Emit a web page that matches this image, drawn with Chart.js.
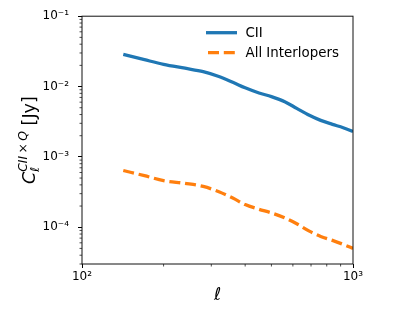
<!DOCTYPE html>
<html>
<head>
<meta charset="utf-8">
<script src="https://cdn.jsdelivr.net/npm/chart.js@4.4.1/dist/chart.umd.min.js"></script>
<style>
  html, body { margin: 0; padding: 0; background: #fff; }
  #chart { display: block; }
</style>
</head>
<body>
<canvas id="chart" width="415" height="311"></canvas>
<script>
// multipole values (l) and the two spectra
const ells = [142, 170, 200, 240, 280, 320, 360, 400, 450, 500, 560, 620, 690, 760, 840, 920, 1000];
const ciiValues = [0.0287, 0.0241, 0.0207, 0.0182, 0.0163, 0.0139, 0.0115, 0.0096, 0.0081, 0.0072,
  0.0061, 0.0049, 0.0039, 0.0033, 0.0029, 0.0026, 0.0023];
const interloperValues = [6.4e-4, 5.4e-4, 4.6e-4, 4.2e-4, 3.8e-4, 3.2e-4, 2.6e-4, 2.1e-4, 1.8e-4, 1.6e-4,
  1.36e-4, 1.12e-4, 8.8e-5, 7.4e-5, 6.5e-5, 5.7e-5, 5.0e-5];

const seriesLabels = ['CII', 'All Interlopers'];

const xMajor = [100, 1000];
const xTickLabels = ['10²', '10³'];
const yMajor = [1e-4, 1e-3, 1e-2, 1e-1];
const yTickLabels = ['10⁻⁴', '10⁻³', '10⁻²', '10⁻¹'];

const xMin = 100, xMax = 1000;
const yMin = 3e-5, yMax = 0.1;

const FONT = '"DejaVu Sans", sans-serif';

// log ticks: 1..9 x 10^n inside the range
function logTicks(min, max) {
  let out = [];
  for (let e = Math.floor(Math.log10(min)); e <= Math.ceil(Math.log10(max)); e++) {
    for (let m = 1; m <= 9; m++) {
      let v = parseFloat((m * Math.pow(10, e)).toPrecision(6));
      if (v >= min * 0.999 && v <= max * 1.001) out.push(v);
    }
  }
  return out;
}
function isMajor(v, majors) {
  return majors.some(m => Math.abs(v / m - 1) < 1e-6);
}

const frameAndText = {
  id: 'frameAndText',
  afterDraw(chart) {
    const ctx = chart.ctx;
    const a = chart.chartArea;
    const xs = chart.scales.x, ys = chart.scales.y;
    ctx.save();

    // minor ticks
    ctx.strokeStyle = '#000';
    ctx.lineWidth = 0.7;
    xs.ticks.forEach(t => {
      if (isMajor(t.value, xMajor)) return;
      let px = xs.getPixelForValue(t.value);
      ctx.beginPath();
      ctx.moveTo(px, a.bottom);
      ctx.lineTo(px, a.bottom + 2.5);
      ctx.stroke();
    });
    ys.ticks.forEach(t => {
      if (isMajor(t.value, yMajor)) return;
      let py = ys.getPixelForValue(t.value);
      ctx.beginPath();
      ctx.moveTo(a.left, py);
      ctx.lineTo(a.left - 2.5, py);
      ctx.stroke();
    });

    // frame
    ctx.lineWidth = 1;
    ctx.strokeStyle = '#111';
    ctx.strokeRect(a.left, a.top, a.right - a.left, a.bottom - a.top);

    // x label
    ctx.fillStyle = '#000';
    ctx.font = 'italic 17.5px ' + FONT;
    ctx.textAlign = 'center';
    ctx.textBaseline = 'alphabetic';
    ctx.fillText('ℓ', (a.left + a.right) / 2, 300);

    // y label  C_l^{CII x Q} [Jy]
    ctx.save();
    ctx.translate(28.5, (a.top + a.bottom) / 2);
    ctx.rotate(-Math.PI / 2);
    ctx.textAlign = 'left';
    const big = '17.5px ' + FONT, small = '12.3px ' + FONT;
    ctx.font = 'italic ' + big;
    const wC = ctx.measureText('C').width;
    ctx.font = 'italic ' + small;
    const wCII = ctx.measureText('CII').width;
    const wQ = ctx.measureText('Q').width;
    ctx.font = small;
    const wX = ctx.measureText('×').width;
    const gap = 2.5;
    const wSup = wCII + gap + wX + gap + wQ;
    ctx.font = big;
    const wJy = ctx.measureText(' [Jy]').width;
    const total = wC + wSup + wJy;
    let x0 = -total / 2;
    const base = 6.5;
    ctx.font = 'italic ' + big;
    ctx.fillText('C', x0, base);
    x0 += wC;
    ctx.font = 'italic ' + small;
    ctx.fillText('ℓ', x0, base + 4);
    ctx.fillText('CII', x0, base - 8);
    ctx.font = small;
    ctx.fillText('×', x0 + wCII + gap, base - 8);
    ctx.font = 'italic ' + small;
    ctx.fillText('Q', x0 + wCII + gap + wX + gap, base - 8);
    x0 += wSup;
    ctx.font = big;
    ctx.fillText(' [Jy]', x0, base);
    ctx.restore();

    // legend
    const legX = 206, legLen = 31, textX = 245.5;
    const rows = [32.7, 52.7];
    chart.data.datasets.forEach((ds, i) => {
      let y = rows[i];
      ctx.strokeStyle = ds.borderColor;
      ctx.lineWidth = ds.borderWidth;
      ctx.setLineDash(ds.borderDash || []);
      ctx.lineDashOffset = -2;
      ctx.beginPath();
      ctx.moveTo(legX, y);
      ctx.lineTo(legX + legLen, y);
      ctx.stroke();
      ctx.setLineDash([]);
      ctx.fillStyle = '#000';
      ctx.font = '13.4px ' + FONT;
      ctx.textAlign = 'left';
      ctx.textBaseline = 'middle';
      ctx.fillText(ds.label, textX, y + 1);
    });
    ctx.restore();
  }
};

new Chart(document.getElementById('chart'), {
  type: 'line',
  data: {
    datasets: [
      {
        label: seriesLabels[0],
        data: ells.map((l, i) => ({x: l, y: ciiValues[i]})),
        borderColor: '#1f77b4',
        borderWidth: 3.3,
        pointRadius: 0,
        fill: false,
        cubicInterpolationMode: 'monotone'
      },
      {
        label: seriesLabels[1],
        data: ells.map((l, i) => ({x: l, y: interloperValues[i]})),
        borderColor: '#ff7f0e',
        borderWidth: 3.3,
        borderDash: [11, 4.8],
        borderCapStyle: 'butt',
        pointRadius: 0,
        fill: false,
        cubicInterpolationMode: 'monotone'
      }
    ]
  },
  options: {
    responsive: false,
    animation: false,
    devicePixelRatio: 1,
    layout: { padding: { top: 15, right: 62, left: 0, bottom: 0 } },
    plugins: {
      legend: { display: false },
      tooltip: { enabled: false }
    },
    scales: {
      x: {
        type: 'logarithmic',
        min: xMin,
        max: xMax,
        afterBuildTicks: scale => {
          scale.ticks = logTicks(xMin, xMax).map(v => ({value: v, major: isMajor(v, xMajor)}));
        },
        afterFit: scale => { scale.height = 47; },
        ticks: {
          autoSkip: false,
          maxRotation: 0,
          padding: 2,
          color: '#000',
          font: { family: FONT, size: 12 },
          callback: v => {
            let i = xMajor.findIndex(m => Math.abs(v / m - 1) < 1e-6);
            return i >= 0 ? xTickLabels[i] : '';
          }
        },
        grid: {
          drawOnChartArea: false,
          tickLength: 4,
          tickWidth: 1,
          tickColor: c => (c.tick && isMajor(c.tick.value, xMajor)) ? '#000' : 'rgba(0,0,0,0)'
        },
        border: { display: false }
      },
      y: {
        type: 'logarithmic',
        min: yMin,
        max: yMax,
        afterBuildTicks: scale => {
          scale.ticks = logTicks(yMin, yMax).map(v => ({value: v, major: isMajor(v, yMajor)}));
        },
        afterFit: scale => { scale.width = 82; },
        ticks: {
          autoSkip: false,
          padding: 9,
          color: '#000',
          font: { family: FONT, size: 12 },
          callback: v => {
            let i = yMajor.findIndex(m => Math.abs(v / m - 1) < 1e-6);
            return i >= 0 ? yTickLabels[i] : '';
          }
        },
        grid: {
          drawOnChartArea: false,
          tickLength: 4,
          tickWidth: 1,
          tickColor: c => (c.tick && isMajor(c.tick.value, yMajor)) ? '#000' : 'rgba(0,0,0,0)'
        },
        border: { display: false }
      }
    }
  },
  plugins: [frameAndText]
});
</script>
</body>
</html>
